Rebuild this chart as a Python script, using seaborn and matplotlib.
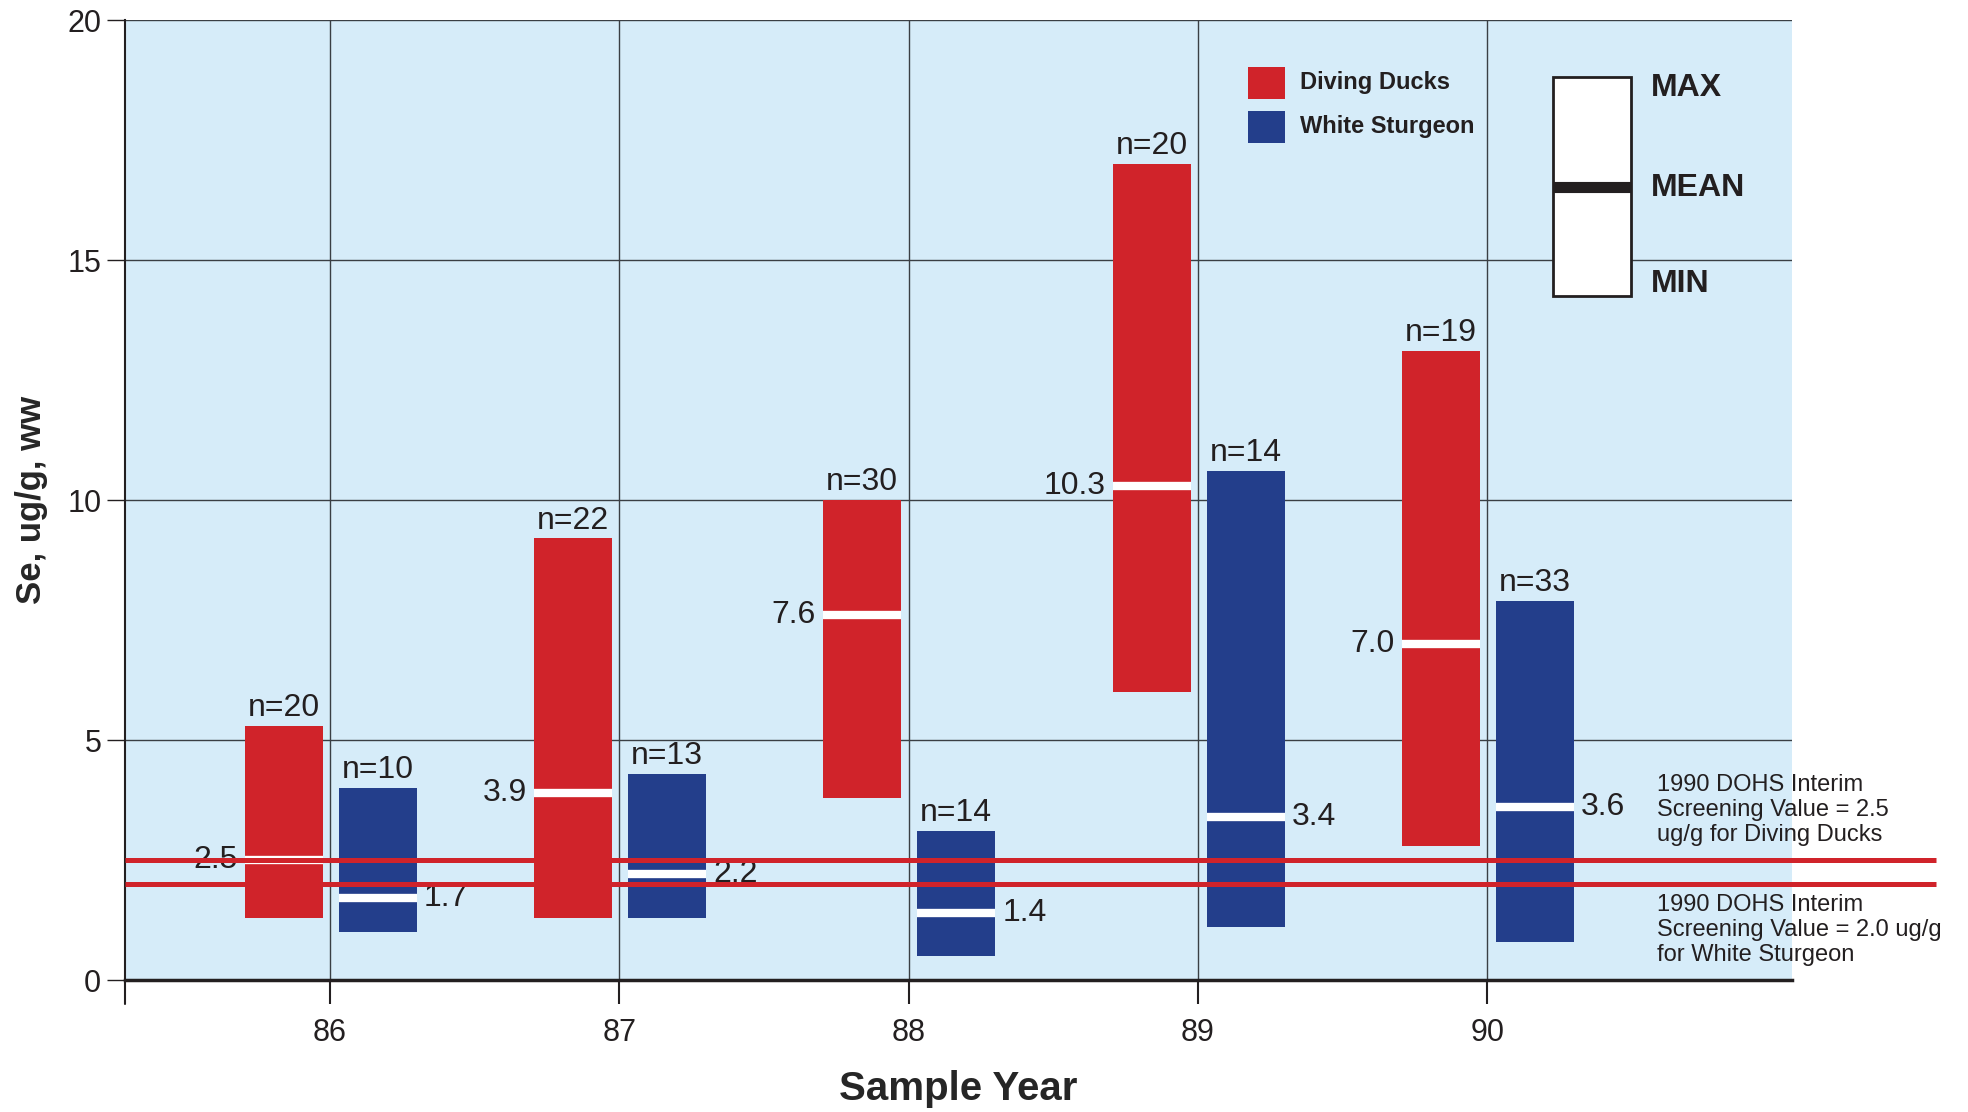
import matplotlib
matplotlib.use("Agg")
import matplotlib.pyplot as plt
from matplotlib.patches import Rectangle
import seaborn as sns

# data
years = [86, 87, 88, 89, 90]
duck_min = [1.3, 1.3, 3.8, 6.0, 2.8]
duck_max = [5.3, 9.2, 10.0, 17.0, 13.1]
duck_mean = [2.5, 3.9, 7.6, 10.3, 7.0]
duck_n = [20, 22, 30, 20, 19]
sturgeon_min = [1.0, 1.3, 0.5, 1.1, 0.8]
sturgeon_max = [4.0, 4.3, 3.1, 10.6, 7.9]
sturgeon_mean = [1.7, 2.2, 1.4, 3.4, 3.6]
sturgeon_n = [10, 13, 14, 14, 33]
screening_ducks = 2.5
screening_sturgeon = 2.0
y_ticks = [0, 5, 10, 15, 20]

RED = "#d0232a"
BLUE = "#233e8b"
BG = "#d6ecf9"
INK = "#231f20"

sns.set_style("white")
plt.rcParams["font.family"] = ["Liberation Sans", "DejaVu Sans"]
plt.rcParams["text.color"] = INK

fig = plt.figure(figsize=(19.68, 11.12), dpi=100)
ax = fig.add_axes([0.0635, 0.1187, 0.8471, 0.8633])
ax.set_facecolor(BG)

w = 0.27
off_d = -0.16
off_s = 0.165

for i, yr in enumerate(years):
    # diving ducks
    xd = yr + off_d
    ax.bar(xd, duck_max[i] - duck_min[i], bottom=duck_min[i], width=w, color=RED, lw=0, zorder=2)
    ax.hlines(duck_mean[i], xd - w / 2, xd + w / 2, color="white", lw=6, zorder=2.5)
    ax.text(xd, duck_max[i] + 0.06, f"n={duck_n[i]}", ha="center", va="bottom", fontsize=23, zorder=3)
    ax.text(xd - w / 2 - 0.025, duck_mean[i], f"{duck_mean[i]:.1f}", ha="right", va="center", fontsize=23, zorder=3)
    # white sturgeon
    xs = yr + off_s
    ax.bar(xs, sturgeon_max[i] - sturgeon_min[i], bottom=sturgeon_min[i], width=w, color=BLUE, lw=0, zorder=2)
    ax.hlines(sturgeon_mean[i], xs - w / 2, xs + w / 2, color="white", lw=6, zorder=2.5)
    ax.text(xs, sturgeon_max[i] + 0.06, f"n={sturgeon_n[i]}", ha="center", va="bottom", fontsize=23, zorder=3)
    ax.text(xs + w / 2 + 0.025, sturgeon_mean[i], f"{sturgeon_mean[i]:.1f}", ha="left", va="center", fontsize=23, zorder=3)

x0, x1 = 85.291, 91.054
ax.set_xlim(x0, x1)
ax.set_ylim(0, 20)

# screening value lines run past the plot area
for v in [screening_ducks, screening_sturgeon]:
    ax.plot([x0, 91.55], [v, v], color=RED, lw=3.6, clip_on=False, zorder=4, solid_capstyle="butt")

ax.text(90.586, 4.3, "1990 DOHS Interim\nScreening Value = 2.5\nug/g for Diving Ducks",
        ha="left", va="top", fontsize=17, linespacing=1.2)
ax.text(90.586, 1.8, "1990 DOHS Interim\nScreening Value = 2.0 ug/g\nfor White Sturgeon",
        ha="left", va="top", fontsize=17, linespacing=1.2)

# legend
ax.add_patch(Rectangle((89.173, 18.35), 0.128, 0.67, color=RED, lw=0, zorder=3))
ax.add_patch(Rectangle((89.173, 17.44), 0.128, 0.66, color=BLUE, lw=0, zorder=3))
ax.text(89.353, 18.69, "Diving Ducks", fontsize=17, fontweight="bold", va="center")
ax.text(89.353, 17.79, "White Sturgeon", fontsize=17, fontweight="bold", va="center")

# max / mean / min key
ax.add_patch(Rectangle((90.227, 14.25), 0.27, 4.56, facecolor="white", edgecolor=INK, lw=2, zorder=3))
ax.hlines(16.52, 90.227, 90.497, color=INK, lw=8, zorder=3.5)
ax.text(90.566, 18.58, "MAX", fontsize=23, fontweight="bold", va="center")
ax.text(90.566, 16.5, "MEAN", fontsize=23, fontweight="bold", va="center")
ax.text(90.566, 14.5, "MIN", fontsize=23, fontweight="bold", va="center")

ax.set_xticks(years)
ax.set_yticks(y_ticks)
ax.grid(True, color="#3a3f44", lw=1.0, zorder=1)
ax.set_axisbelow(True)
ax.tick_params(axis="x", direction="out", length=17, width=1.5, pad=10, labelsize=22, colors=INK)
ax.tick_params(axis="y", direction="out", length=13, width=1.0, pad=4, labelsize=22, colors=INK)
ax.tick_params(axis="both", bottom=True, left=True)

for s in ["top", "right"]:
    ax.spines[s].set_visible(False)
ax.spines["left"].set_color(INK)
ax.spines["left"].set_linewidth(1.5)
ax.spines["bottom"].set_color(INK)
ax.spines["bottom"].set_linewidth(2.5)
ax.plot([x0, x0], [0, -0.5], color=INK, lw=1.5, clip_on=False)

ax.set_xlabel("Sample Year", fontsize=29, fontweight="bold", labelpad=16)
ax.set_ylabel("Se, ug/g, ww", fontsize=25, fontweight="bold", labelpad=14)

fig.savefig("out.png", dpi=100)
